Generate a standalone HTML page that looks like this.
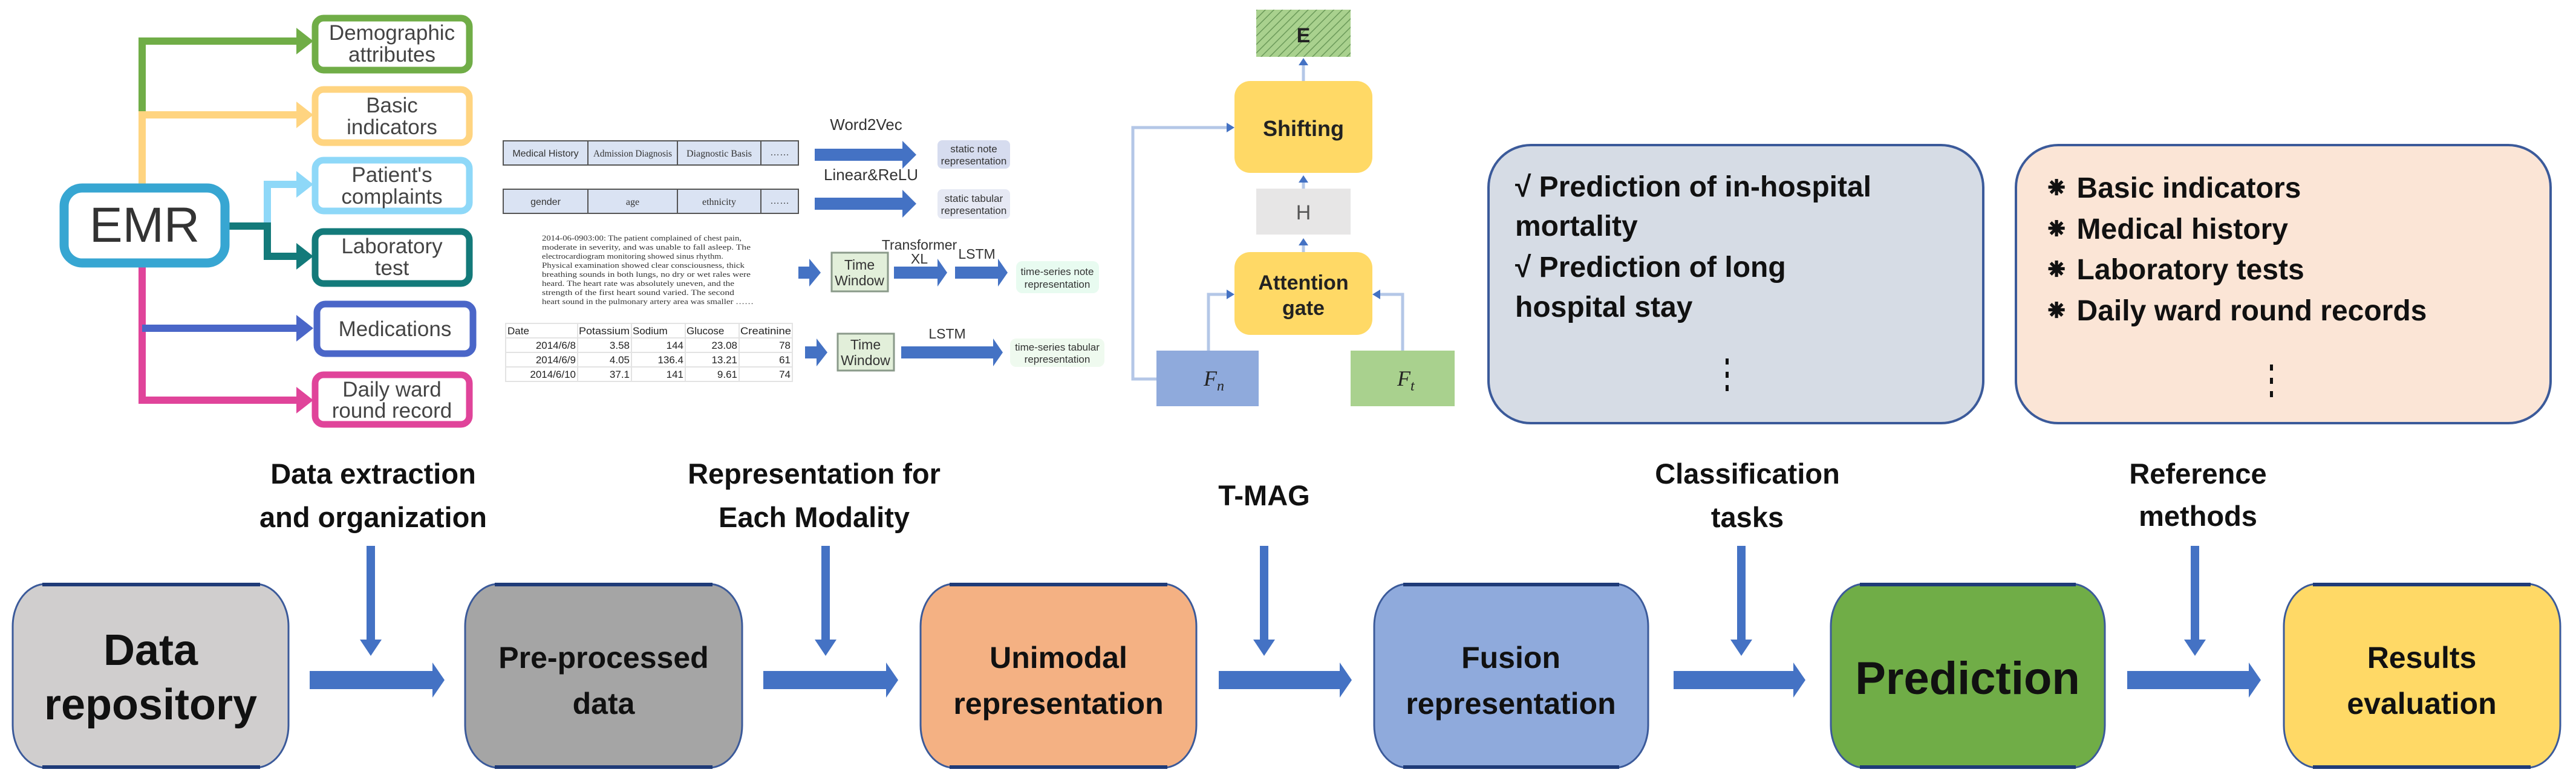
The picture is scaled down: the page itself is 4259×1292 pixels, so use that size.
<!DOCTYPE html>
<html><head><meta charset="utf-8"><style>
html,body{margin:0;padding:0;background:#fff;}
svg{display:block;}
text{font-family:"Liberation Sans Narrow","Liberation Sans","Noto Sans CJK SC",sans-serif;}
.b{font-weight:bold;}
.m{font-family:"Liberation Serif",serif;}
</style></head><body>
<svg width="4259" height="1292" viewBox="0 0 4259 1292" xmlns="http://www.w3.org/2000/svg">
<defs>
<pattern id="hatch" width="10" height="10" patternUnits="userSpaceOnUse" patternTransform="rotate(45)">
<rect width="10" height="10" fill="#a9d18e"/><line x1="0" y1="0" x2="0" y2="10" stroke="#6b9a5a" stroke-width="3"/>
</pattern>
</defs>

<!-- EMR tree connectors -->
<g fill="none" stroke-width="12">
<polyline points="235,305 235,68 500,68" stroke="#70ad47"/>
<polyline points="235,305 235,190 500,190" stroke="#ffd480"/>
<polyline points="235,440 235,662 500,662" stroke="#e0449a"/>
<line x1="235" y1="543" x2="500" y2="543" stroke="#4a66c8"/>
<polyline points="442,374 442,305 500,305" stroke="#8ed8f8"/>
<polyline points="379,374 442,374 442,424 500,424" stroke="#137a7a"/>
</g>
<g>
<polygon points="490,46 518,68 490,90" fill="#70ad47"/>
<polygon points="490,168 518,190 490,212" fill="#ffd480"/>
<polygon points="490,283 518,305 490,327" fill="#8ed8f8"/>
<polygon points="490,402 518,424 490,446" fill="#137a7a"/>
<polygon points="490,521 518,543 490,565" fill="#4a66c8"/>
<polygon points="490,640 518,662 490,684" fill="#e0449a"/>
</g>
<!-- EMR box -->
<rect x="106" y="311" width="266" height="124" rx="30" fill="#fff" stroke="#37a6d2" stroke-width="15"/>
<text x="239" y="400" font-size="82" text-anchor="middle" fill="#333">EMR</text>
<!-- category boxes -->
<g fill="#fff" stroke-width="11">
<rect x="521" y="30" width="255" height="86" rx="14" stroke="#70ad47"/>
<rect x="521" y="148" width="255" height="88" rx="14" stroke="#ffd480"/>
<rect x="521" y="265" width="255" height="84" rx="14" stroke="#8ed8f8"/>
<rect x="521" y="383" width="255" height="86" rx="14" stroke="#137a7a"/>
<rect x="524" y="503" width="258" height="82" rx="14" stroke="#4a66c8"/>
<rect x="521" y="620" width="255" height="82" rx="14" stroke="#e0449a"/>
</g>
<g font-size="35" fill="#444" text-anchor="middle">
<text x="648" y="66">Demographic</text><text x="648" y="102">attributes</text>
<text x="648" y="186">Basic</text><text x="648" y="222">indicators</text>
<text x="648" y="301">Patient's</text><text x="648" y="337">complaints</text>
<text x="648" y="419">Laboratory</text><text x="648" y="455">test</text>
<text x="653" y="556">Medications</text>
<text x="648" y="656">Daily ward</text><text x="648" y="691">round record</text>
</g>

<!-- representation section -->
<g stroke="#555" stroke-width="2" fill="#dae3f3">
<rect x="832" y="233" width="140" height="40"/><rect x="972" y="233" width="148" height="40"/><rect x="1120" y="233" width="138" height="40"/><rect x="1258" y="233" width="62" height="40"/>
<rect x="832" y="313" width="140" height="40"/><rect x="972" y="313" width="148" height="40"/><rect x="1120" y="313" width="138" height="40"/><rect x="1258" y="313" width="62" height="40"/>
</g>
<g font-size="16" text-anchor="middle" fill="#333">
<text x="902" y="259">Medical History</text><text x="1046" y="259" class="m" textLength="130" lengthAdjust="spacingAndGlyphs">Admission Diagnosis</text><text x="1189" y="259" class="m">Diagnostic Basis</text><text x="1289" y="257">……</text>
<text x="902" y="339">gender</text><text x="1046" y="339" class="m">age</text><text x="1189" y="339" class="m">ethnicity</text><text x="1289" y="337">……</text>
</g>
<g fill="#4472c4">
<polygon points="1347,246 1492,246 1492,233 1515,256 1492,279 1492,266 1347,266"/>
<polygon points="1347,327 1492,327 1492,314 1515,337 1492,360 1492,347 1347,347"/>
</g>
<text x="1432" y="215" font-size="26" text-anchor="middle" fill="#333">Word2Vec</text>
<text x="1440" y="298" font-size="26" text-anchor="middle" fill="#333">Linear&amp;ReLU</text>
<rect x="1550" y="232" width="120" height="47" rx="8" fill="#d6dcef"/>
<rect x="1550" y="313" width="120" height="49" rx="8" fill="#e6e9f4"/>
<g font-size="17" text-anchor="middle" fill="#333">
<text x="1610" y="252">static note</text><text x="1610" y="272">representation</text>
<text x="1610" y="334">static tabular</text><text x="1610" y="354">representation</text>
</g>
<g font-size="13" fill="#333">
<text x="896" y="398" class="m" textLength="330" lengthAdjust="spacingAndGlyphs">2014-06-0903:00: The patient complained of chest pain,</text>
<text x="896" y="413" class="m" textLength="345" lengthAdjust="spacingAndGlyphs">moderate in severity, and was unable to fall asleep. The</text>
<text x="896" y="428" class="m" textLength="300" lengthAdjust="spacingAndGlyphs">electrocardiogram monitoring showed sinus rhythm.</text>
<text x="896" y="443" class="m" textLength="335" lengthAdjust="spacingAndGlyphs">Physical examination showed clear consciousness, thick</text>
<text x="896" y="458" class="m" textLength="345" lengthAdjust="spacingAndGlyphs">breathing sounds in both lungs, no dry or wet rales were</text>
<text x="896" y="473" class="m" textLength="318" lengthAdjust="spacingAndGlyphs">heard. The heart rate was absolutely uneven, and the</text>
<text x="896" y="488" class="m" textLength="318" lengthAdjust="spacingAndGlyphs">strength of the first heart sound varied. The second</text>
<text x="896" y="503" class="m" textLength="350" lengthAdjust="spacingAndGlyphs">heart sound in the pulmonary artery area was smaller ……</text>
</g>
<g fill="#4472c4">
<polygon points="1320,441 1338,441 1338,428 1357,451 1338,474 1338,461 1320,461"/>
<polygon points="1478,441 1550,441 1550,428 1566,451 1550,474 1550,461 1478,461"/>
<polygon points="1579,441 1650,441 1650,428 1666,451 1650,474 1650,461 1579,461"/>
<polygon points="1331,573 1350,573 1350,560 1368,583 1350,606 1350,593 1331,593"/>
<polygon points="1490,573 1642,573 1642,560 1658,583 1642,606 1642,593 1490,593"/>
</g>
<rect x="1375" y="418" width="93" height="64" fill="#e2efda" stroke="#8a9a8a" stroke-width="3"/>
<rect x="1385" y="552" width="93" height="61" fill="#e2efda" stroke="#8a9a8a" stroke-width="3"/>
<g font-size="23" text-anchor="middle" fill="#333">
<text x="1421" y="446">Time</text><text x="1421" y="472">Window</text>
<text x="1431" y="578">Time</text><text x="1431" y="604">Window</text>
<text x="1520" y="413">Transformer</text><text x="1520" y="436">XL</text>
<text x="1615" y="428">LSTM</text>
<text x="1566" y="560">LSTM</text>
</g>
<rect x="1680" y="432" width="137" height="53" rx="10" fill="#e8fbf0"/>
<rect x="1670" y="560" width="156" height="47" rx="10" fill="#effaef"/>
<g font-size="17" text-anchor="middle" fill="#333">
<text x="1748" y="455">time-series note</text><text x="1748" y="476">representation</text>
<text x="1748" y="580">time-series tabular</text><text x="1748" y="600">representation</text>
</g>
<!-- lab table -->
<g stroke="#e3e3e3" stroke-width="2" fill="none">
<rect x="836" y="535" width="474" height="96"/>
<line x1="836" y1="559" x2="1310" y2="559"/><line x1="836" y1="583" x2="1310" y2="583"/><line x1="836" y1="607" x2="1310" y2="607"/>
<line x1="955" y1="535" x2="955" y2="631"/><line x1="1044" y1="535" x2="1044" y2="631"/><line x1="1133" y1="535" x2="1133" y2="631"/><line x1="1222" y1="535" x2="1222" y2="631"/>
</g>
<g font-size="17" fill="#222">
<text x="839" y="553">Date</text><text x="957" y="553" textLength="84" lengthAdjust="spacingAndGlyphs">Potassium</text><text x="1046" y="553">Sodium</text><text x="1135" y="553">Glucose</text><text x="1224" y="553" textLength="84" lengthAdjust="spacingAndGlyphs">Creatinine</text>
</g>
<g font-size="17" fill="#222" text-anchor="end">
<text x="952" y="577">2014/6/8</text><text x="1041" y="577">3.58</text><text x="1130" y="577">144</text><text x="1219" y="577">23.08</text><text x="1307" y="577">78</text>
<text x="952" y="601">2014/6/9</text><text x="1041" y="601">4.05</text><text x="1130" y="601">136.4</text><text x="1219" y="601">13.21</text><text x="1307" y="601">61</text>
<text x="952" y="625">2014/6/10</text><text x="1041" y="625">37.1</text><text x="1130" y="625">141</text><text x="1219" y="625">9.61</text><text x="1307" y="625">74</text>
</g>

<!-- T-MAG -->
<g fill="none" stroke="#b4c7e7" stroke-width="5">
<polyline points="1912,627 1873,627 1873,211 2030,211"/>
<polyline points="1998,580 1998,487 2030,487"/>
<polyline points="2319,580 2319,487 2280,487"/>
<line x1="2155" y1="134" x2="2155" y2="105"/>
<line x1="2155" y1="312" x2="2155" y2="296"/>
<line x1="2155" y1="417" x2="2155" y2="398"/>
</g>
<g fill="#4472c4">
<polygon points="2028,203 2041,211 2028,219"/><polygon points="2028,479 2041,487 2028,495"/><polygon points="2282,479 2269,487 2282,495"/>
<polygon points="2147,108 2155,96 2163,108"/><polygon points="2147,302 2155,290 2163,302"/><polygon points="2147,406 2155,394 2163,406"/>
</g>
<rect x="2077" y="16" width="156" height="78" fill="url(#hatch)"/>
<rect x="2041" y="134" width="228" height="152" rx="26" fill="#ffd966"/>
<rect x="2077" y="312" width="156" height="76" fill="#e7e6e6"/>
<rect x="2041" y="417" width="228" height="137" rx="26" fill="#ffd966"/>
<rect x="1912" y="580" width="169" height="92" fill="#8faadc"/>
<rect x="2233" y="580" width="172" height="92" fill="#a9d18e"/>
<g font-weight="bold" text-anchor="middle" fill="#222">
<text x="2155" y="70" font-size="34" style="font-family:'Liberation Sans',sans-serif">E</text>
<text x="2155" y="225" font-size="36" style="font-family:'Liberation Sans',sans-serif">Shifting</text>
<text x="2155" y="363" font-size="34" fill="#555" font-weight="normal" style="font-family:'Liberation Sans',sans-serif">H</text>
<text x="2155" y="479" font-size="34" style="font-family:'Liberation Sans',sans-serif">Attention</text>
<text x="2155" y="521" font-size="34" style="font-family:'Liberation Sans',sans-serif">gate</text>
</g>
<text x="1990" y="638" font-size="36" font-style="italic" fill="#222" class="m">F<tspan font-size="24" dy="8">n</tspan></text>
<text x="2310" y="638" font-size="36" font-style="italic" fill="#222" class="m">F<tspan font-size="24" dy="8">t</tspan></text>

<!-- Tasks & methods boxes -->
<rect x="2461" y="240" width="818" height="460" rx="70" fill="#d6dce5" stroke="#3b5a9a" stroke-width="4"/>
<rect x="3333" y="240" width="884" height="460" rx="70" fill="#fbe5d6" stroke="#3b5a9a" stroke-width="4"/>
<g class="b" font-size="48" fill="#111">
<text x="2505" y="325" class="b">√  Prediction of in-hospital</text>
<text x="2505" y="390" class="b">mortality</text>
<text x="2505" y="458" class="b">√  Prediction of long</text>
<text x="2505" y="524" class="b">hospital stay</text>
<text x="3380" y="327" class="b">⁕ Basic indicators</text>
<text x="3380" y="395" class="b">⁕ Medical history</text>
<text x="3380" y="462" class="b">⁕ Laboratory tests</text>
<text x="3380" y="530" class="b">⁕ Daily ward round records</text>
</g>
<g fill="#111">
<rect x="2853" y="593" width="5" height="10"/><rect x="2853" y="615" width="5" height="10"/><rect x="2853" y="637" width="5" height="10"/>
<rect x="3753" y="603" width="5" height="10"/><rect x="3753" y="625" width="5" height="10"/><rect x="3753" y="647" width="5" height="10"/>
</g>

<!-- bottom labels -->
<g class="b" font-size="47" text-anchor="middle" fill="#111">
<text x="617" y="800">Data extraction</text><text x="617" y="872">and organization</text>
<text x="1346" y="800">Representation for</text><text x="1346" y="872">Each Modality</text>
<text x="2090" y="836">T-MAG</text>
<text x="2889" y="800">Classification</text><text x="2889" y="872">tasks</text>
<text x="3634" y="800">Reference</text><text x="3634" y="870">methods</text>
</g>
<!-- vertical arrows -->
<g fill="#4472c4">
<rect x="606" y="903" width="14" height="160"/><polygon points="595,1058 631,1058 613,1085"/>
<rect x="1358" y="903" width="14" height="160"/><polygon points="1347,1058 1383,1058 1365,1085"/>
<rect x="2083" y="903" width="14" height="160"/><polygon points="2072,1058 2108,1058 2090,1085"/>
<rect x="2872" y="903" width="14" height="160"/><polygon points="2861,1058 2897,1058 2879,1085"/>
<rect x="3622" y="903" width="14" height="160"/><polygon points="3611,1058 3647,1058 3629,1085"/>
</g>
<!-- horizontal arrows -->
<g fill="#4472c4">
<polygon points="512,1110 715,1110 715,1096 735,1125 715,1154 715,1140 512,1140"/>
<polygon points="1262,1110 1465,1110 1465,1096 1485,1125 1465,1154 1465,1140 1262,1140"/>
<polygon points="2015,1110 2215,1110 2215,1096 2235,1125 2215,1154 2215,1140 2015,1140"/>
<polygon points="2767,1110 2965,1110 2965,1096 2985,1125 2965,1154 2965,1140 2767,1140"/>
<polygon points="3517,1110 3718,1110 3718,1096 3738,1125 3718,1154 3718,1140 3517,1140"/>
</g>
<!-- process boxes -->
<g stroke="#3b5a9a" stroke-width="3">
<rect x="21" y="966" width="456" height="304" rx="55" ry="70" fill="#d0cece"/>
<rect x="769" y="966" width="458" height="304" rx="55" ry="70" fill="#a5a5a5"/>
<rect x="1522" y="966" width="456" height="304" rx="55" ry="70" fill="#f4b183"/>
<rect x="2272" y="966" width="453" height="304" rx="55" ry="70" fill="#8faadc"/>
<rect x="3027" y="966" width="453" height="304" rx="55" ry="70" fill="#70ad47"/>
<rect x="3776" y="966" width="457" height="304" rx="55" ry="70" fill="#ffd966"/>
</g>
<g fill="#1f3b78">
<rect x="70" y="964" width="360" height="6"/><rect x="70" y="1266" width="360" height="6"/>
<rect x="818" y="964" width="360" height="6"/><rect x="818" y="1266" width="360" height="6"/>
<rect x="1570" y="964" width="360" height="6"/><rect x="1570" y="1266" width="360" height="6"/>
<rect x="2320" y="964" width="357" height="6"/><rect x="2320" y="1266" width="357" height="6"/>
<rect x="3075" y="964" width="357" height="6"/><rect x="3075" y="1266" width="357" height="6"/>
<rect x="3824" y="964" width="360" height="6"/><rect x="3824" y="1266" width="360" height="6"/>
</g>
<g class="b" text-anchor="middle" fill="#111">
<text x="249" y="1100" font-size="72">Data</text><text x="249" y="1190" font-size="72">repository</text>
<text x="998" y="1105" font-size="50">Pre-processed</text><text x="998" y="1181" font-size="50">data</text>
<text x="1750" y="1105" font-size="50">Unimodal</text><text x="1750" y="1181" font-size="50">representation</text>
<text x="2498" y="1105" font-size="50">Fusion</text><text x="2498" y="1181" font-size="50">representation</text>
<text x="3253" y="1148" font-size="76">Prediction</text>
<text x="4004" y="1105" font-size="50">Results</text><text x="4004" y="1181" font-size="50">evaluation</text>
</g>
</svg>
</body></html>
